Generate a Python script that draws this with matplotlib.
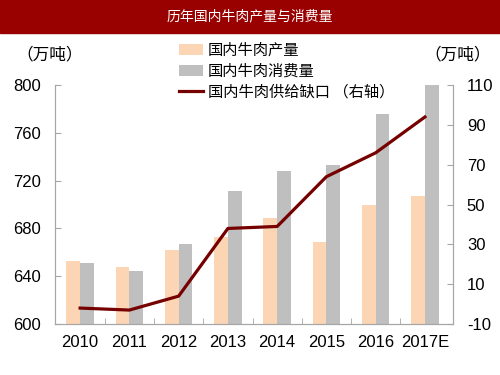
import matplotlib
matplotlib.use('Agg')
import matplotlib.pyplot as plt
import numpy as np
from matplotlib.patches import Rectangle

plt.rcParams['font.family'] = ['Liberation Sans', 'Noto Sans CJK SC', 'DejaVu Sans']
plt.rcParams['axes.unicode_minus'] = False

years = ['2010', '2011', '2012', '2013', '2014', '2015', '2016', '2017E']
production = [653, 648, 662, 673, 689, 669, 700, 707]
consumption = [651, 644, 667, 711, 728, 733, 776, 800]
gap = [-2, -3, 4, 38, 39, 64, 76, 94]

title = '历年国内牛肉产量与消费量'
cjk = ['Noto Sans CJK SC', 'DejaVu Sans']
spine_c = '#a6a6a6'

fig = plt.figure(figsize=(5, 3.75), dpi=100)
fig.patches.append(Rectangle((0, 0.912), 1, 0.088, transform=fig.transFigure,
                             color='#990000', zorder=0))
fig.text(0.5, 0.956, title, color='white', fontsize=10, ha='center', va='center', family=cjk)

ax = fig.add_axes([0.11, 0.136, 0.796, 0.637])
x = np.arange(len(years))
w = 0.28
b1 = ax.bar(x - w / 2, production, w, color='#fcd5b5', zorder=2)
b2 = ax.bar(x + w / 2, consumption, w, color='#bfbfbf', zorder=2)
ax.set_ylim(600, 800)
ax.set_yticks(range(600, 801, 40))
ax.set_xlim(-0.51, 7.57)
ax.set_xticks(x)
ax.set_xticklabels(years)
ax.set_xticks(np.arange(0.5, 7, 1), minor=True)
ax.tick_params(axis='x', which='major', length=0, labelsize=12, pad=8)
ax.tick_params(axis='x', which='minor', direction='in', length=4, color=spine_c)
ax.tick_params(axis='y', direction='in', length=4, color=spine_c, labelsize=12, pad=10)
ax.spines['top'].set_visible(False)
for s in ['left', 'bottom', 'right']:
    ax.spines[s].set_color(spine_c)

ax2 = ax.twinx()
l1, = ax2.plot(x, gap, color='#760000', lw=2.3, zorder=3)
ax2.set_ylim(-10, 110)
ax2.set_yticks(range(-10, 111, 20))
ax2.tick_params(axis='y', direction='in', length=4, color=spine_c, labelsize=12, pad=10)
ax2.spines['top'].set_visible(False)
for s in ['left', 'bottom', 'right']:
    ax2.spines[s].set_color(spine_c)

fig.text(0.10, 0.853, '（万吨）', fontsize=12, ha='center', va='center', family=cjk)
fig.text(0.915, 0.853, '（万吨）', fontsize=12, ha='center', va='center', family=cjk)

leg = fig.legend([b1, b2, l1], ['国内牛肉产量', '国内牛肉消费量', '国内牛肉供给缺口 （右轴）'],
                 loc='upper left', bbox_to_anchor=(0.345, 0.905), frameon=False,
                 prop={'family': cjk, 'size': 11}, handlelength=1.6, handletextpad=0.3,
                 labelspacing=0.25, borderaxespad=0)

fig.savefig('out.png', dpi=100)
